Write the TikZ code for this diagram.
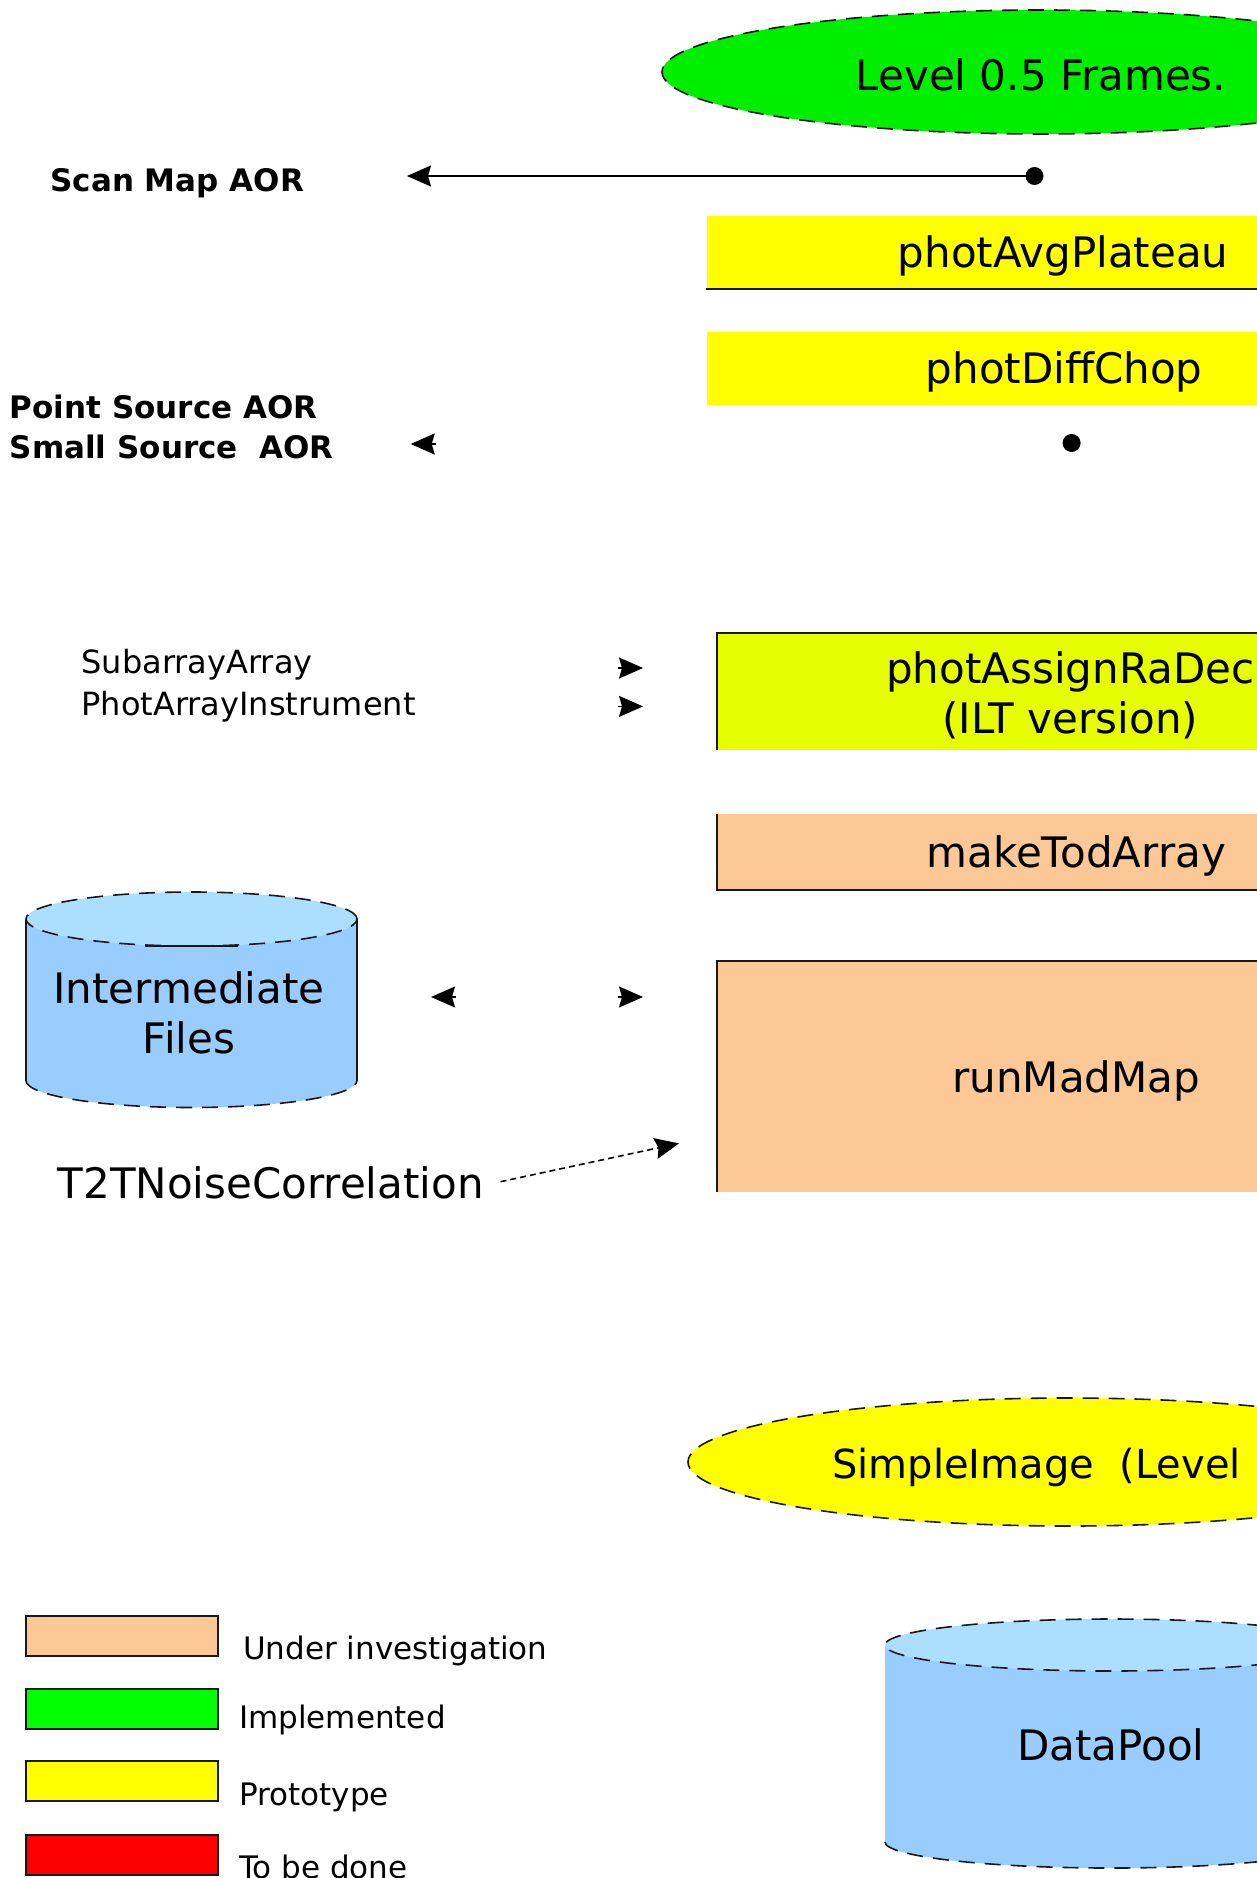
\documentclass[tikz,border=0pt]{standalone}
\usepackage{fontspec}
\setmainfont{DejaVu Sans}
\usetikzlibrary{shapes.geometric,arrows.meta}
\definecolor{lvlgreen}{RGB}{0,238,0}
\definecolor{legreen}{RGB}{0,255,0}
\definecolor{proto}{RGB}{255,255,0}
\definecolor{protoalt}{RGB}{230,255,0}
\definecolor{peach}{RGB}{252,200,150}
\definecolor{todo}{RGB}{255,0,0}
\definecolor{cylbody}{RGB}{153,204,255}
\definecolor{cyltop}{RGB}{172,222,255}
\definecolor{edge}{RGB}{25,25,25}
\begin{document}
\begin{tikzpicture}[x=1pt,y=1pt,
  bigtxt/.style={font=\fontsize{42}{50}\selectfont},
  boldtxt/.style={font=\fontsize{31}{40}\selectfont\bfseries},
  midtxt/.style={font=\fontsize{32}{42}\selectfont},
  legtxt/.style={font=\fontsize{31}{37}\selectfont},
  procbox/.style={rectangle, inner sep=0pt, anchor=north west},
  boxlabel/.style={inner sep=0pt, bigtxt, align=center},
  boxedge/.style={draw=edge, line width=2pt},
  dashedge/.style={draw=edge, line width=1.6pt, dash pattern=on 16pt off 10pt},
  datanode/.style={ellipse, inner sep=0pt, dashedge},
  blob/.style={circle, fill=black, minimum size=18pt, inner sep=0pt},
  headarrow/.style={-{Stealth[length=24pt,width=21pt,inset=3pt]}, draw=black, line width=1.6pt},
  legbox/.style={rectangle, draw=edge, line width=2pt, minimum width=192pt, minimum height=40pt, inner sep=0pt},
  txt/.style={inner sep=0pt, anchor=base west}]

\useasboundingbox (0,0) rectangle (1256,-1878);

% ---- input frames ----
\node[datanode, fill=lvlgreen, minimum width=758pt, minimum height=124pt]
  (lvl) at (1041,-72) {};
\node[boxlabel] (lvltxt) at ([yshift=-3pt]lvl.center) {Level 0.5 Frames.};

\node[txt, boldtxt] (scanaor) at (50.3,-192) {Scan Map AOR};
\node[blob] (scandot) at (1034.5,-176) {};
\coordinate (scantip) at (407,-176);
\draw[headarrow] (scandot.center) -- (scantip);

% ---- pipeline steps ----
\node[procbox, fill=proto, minimum width=713pt, minimum height=73pt]
  (avgplat) at (706.4,-215.5) {};
\node[boxlabel] (avgplattxt) at ([yshift=-4pt]avgplat.center) {photAvgPlateau};
\draw[boxedge] (avgplat.south west) -- (avgplat.south east);

\node[procbox, fill=proto, minimum width=715pt, minimum height=73pt]
  (diffchop) at (706.4,-331.6) {};
\node[boxlabel] (diffchoptxt) at ([yshift=-4pt]diffchop.center) {photDiffChop};

\node[txt, boldtxt] (pointaor) at (9.6,-418) {Point Source AOR};
\node[txt, boldtxt] (smallaor) at (9.6,-458) {Small Source~~AOR};
\node[blob] (pointdot) at (1071.6,-443) {};
\coordinate (pstip) at (410.7,-444);
\coordinate (psback) at (436,-444);
\draw[headarrow] (psback) -- (pstip);

\node[txt, midtxt] (subarr) at (81.4,-673.5) {SubarrayArray};
\node[txt, midtxt] (photinst) at (81.4,-715.5) {PhotArrayInstrument};
\coordinate (subback) at (618,-668);
\coordinate (subtip) at (643,-668);
\coordinate (instback) at (618,-706.4);
\coordinate (insttip) at (643,-706.4);
\draw[headarrow] (subback) -- (subtip);
\draw[headarrow] (instback) -- (insttip);

\node[procbox, fill=protoalt, minimum width=706pt, minimum height=116.5pt]
  (radec) at (717,-633) {};
\node[boxlabel] (radectxt) at ([yshift=-4pt]radec.center) {photAssignRaDec\\(ILT version)};
\draw[boxedge] (radec.south west) -- (radec.north west) -- (radec.north east);

\node[procbox, fill=peach, minimum width=718pt, minimum height=75.6pt]
  (todarr) at (717,-814) {};
\node[boxlabel] (todarrtxt) at ([yshift=-4pt]todarr.center) {makeTodArray};
\draw[boxedge] (todarr.north west) -- (todarr.south west) -- (todarr.south east);

\node[procbox, fill=peach, minimum width=718pt, minimum height=230pt]
  (madmap) at (717,-961.4) {};
\node[boxlabel] (madmaptxt) at ([yshift=-4pt]madmap.center) {runMadMap};
\draw[boxedge] (madmap.south west) -- (madmap.north west) -- (madmap.north east);

% ---- intermediate files store ----
\coordinate (ifTop) at (191.5,-919);
\coordinate (ifBot) at (191.5,-1080.5);
\fill[cylbody] (26,-919) -- (26,-1080.5)
  arc[start angle=180, end angle=360, x radius=165.5, y radius=27] -- (357,-919) -- cycle;
\fill[cyltop] (ifTop) ellipse[x radius=165.5, y radius=27];
\draw[draw=edge, line width=1.4pt] (26,-919) -- (26,-1080.5) (357,-919) -- (357,-1080.5);
\draw[dashedge] (ifTop) ellipse[x radius=165.5, y radius=27];
\draw[dashedge] (26,-1080.5) arc[start angle=180, end angle=360, x radius=165.5, y radius=27];
\draw[draw=edge, line width=1.6pt] (145,-946) -- (238,-946);
\node[boxlabel] (interm) at (189,-1013) {Intermediate\\Files};

\coordinate (ifback) at (456,-997);
\coordinate (iftip) at (431,-997);
\coordinate (mmback) at (618,-997);
\coordinate (mmtip) at (643,-997);
\draw[headarrow] (ifback) -- (iftip);
\draw[headarrow] (mmback) -- (mmtip);

\node[txt, bigtxt] (t2t) at (57.5,-1198) {T2TNoiseCorrelation};
\coordinate (t2tstart) at (500.5,-1181.7);
\coordinate (t2ttip) at (679,-1143.4);
\draw[headarrow, dash pattern=on 6pt off 4pt] (t2tstart) -- (t2ttip);

% ---- output product ----
\node[datanode, fill=proto, minimum width=760pt, minimum height=128pt]
  (simg) at (1068,-1462) {};
\node[txt, font=\fontsize{40}{48}\selectfont] (simgtxt) at (832,-1478) {SimpleImage~~(Level};

% ---- data pool store ----
\coordinate (dpTop) at (1111,-1645);
\coordinate (dpBot) at (1111,-1842);
\fill[cylbody] (885,-1645) -- (885,-1842)
  arc[start angle=180, end angle=360, x radius=226, y radius=26] -- (1337,-1645) -- cycle;
\fill[cyltop] (dpTop) ellipse[x radius=226, y radius=26];
\draw[dashedge] (dpTop) ellipse[x radius=226, y radius=26];
\draw[dashedge] (885,-1842) arc[start angle=180, end angle=360, x radius=226, y radius=26];
\node[boxlabel] (dpool) at (1111,-1745) {DataPool};

% ---- legend ----
\node[legbox, fill=peach] (legA) at (122,-1635.5) {};
\node[legbox, fill=legreen] (legB) at (122,-1709) {};
\node[legbox, fill=proto] (legC) at (122,-1781) {};
\node[legbox, fill=todo] (legD) at (122,-1855) {};
\node[txt, legtxt] (legAt) at (243,-1659) {Under investigation};
\node[txt, legtxt] (legBt) at (239,-1728) {Implemented};
\node[txt, legtxt] (legCt) at (239,-1805) {Prototype};
\node[txt, legtxt] (legDt) at (239,-1878) {To be done};
\end{tikzpicture}
\end{document}
